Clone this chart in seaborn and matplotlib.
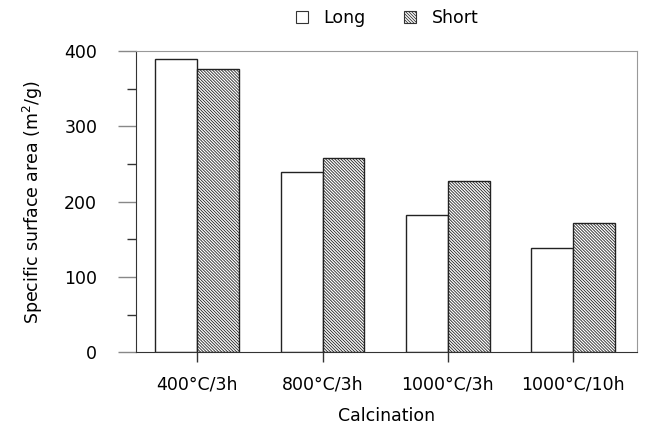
import matplotlib
matplotlib.use("Agg")
import matplotlib.pyplot as plt
import seaborn as sns
import pandas as pd
from matplotlib.patches import Patch
from matplotlib.ticker import MultipleLocator

# values
calcination = ["400°C/3h", "800°C/3h", "1000°C/3h", "1000°C/10h"]
long_area = [389, 239, 182, 139]
short_area = [376, 258, 227, 172]
series = ["Long", "Short"]

df = pd.DataFrame({
    "Calcination": calcination * 2,
    "area": long_area + short_area,
    "type": ["Long"] * 4 + ["Short"] * 4,
})

sns.set_style("ticks")
plt.rcParams["font.family"] = ["DejaVu Sans"]
plt.rcParams["text.color"] = "black"
plt.rcParams["axes.labelcolor"] = "black"
plt.rcParams["xtick.labelcolor"] = "black"
plt.rcParams["ytick.labelcolor"] = "black"
plt.rcParams["hatch.color"] = "#777777"
plt.rcParams["hatch.linewidth"] = 0.6

fig = plt.figure(figsize=(6.45, 4.3), dpi=100)
ax = fig.add_axes([0.211, 0.181, 0.776, 0.700])

sns.barplot(
    data=df, x="Calcination", y="area", hue="type",
    hue_order=series, order=calcination,
    palette=["white", "white"], edgecolor="#222222", linewidth=1.0,
    width=0.67, gap=0, saturation=1, legend=False, ax=ax,
)

for bar in ax.containers[1]:
    bar.set_hatch("\\" * 11)

ax.set_xlim(-0.49, 3.51)
ax.set_ylim(0, 400)
ax.yaxis.set_major_locator(MultipleLocator(100))
ax.yaxis.set_minor_locator(MultipleLocator(50))

ax.tick_params(axis="y", which="major", direction="out", length=13,
               width=1.0, color="#888888", pad=15, labelsize=12.5)
ax.tick_params(axis="y", which="minor", direction="out", length=6.5,
               width=1.0, color="#333333")
ax.tick_params(axis="x", direction="out", length=7.5, width=1.0,
               color="#333333", pad=9, labelsize=12.5)

for side in ["top", "right"]:
    ax.spines[side].set_visible(True)
    ax.spines[side].set_color("#999999")
for side in ["left", "bottom"]:
    ax.spines[side].set_color("#333333")

ax.set_xlabel("Calcination", fontsize=12.5, labelpad=10)
ax.set_ylabel("Specific surface area (m$^2$/g)", fontsize=12.5, labelpad=14)

handles = [
    Patch(facecolor="white", edgecolor="#333333", linewidth=0.8, label="Long"),
    Patch(facecolor="white", edgecolor="#333333", linewidth=0.8,
          hatch="\\" * 11, label="Short"),
]
fig.legend(handles=handles, loc="center", bbox_to_anchor=(0.6, 0.958),
           ncol=2, frameon=False, fontsize=12.5, handlelength=0.7,
           handleheight=0.7, handletextpad=0.9, columnspacing=2.2)

fig.savefig("out.png", dpi=100)
